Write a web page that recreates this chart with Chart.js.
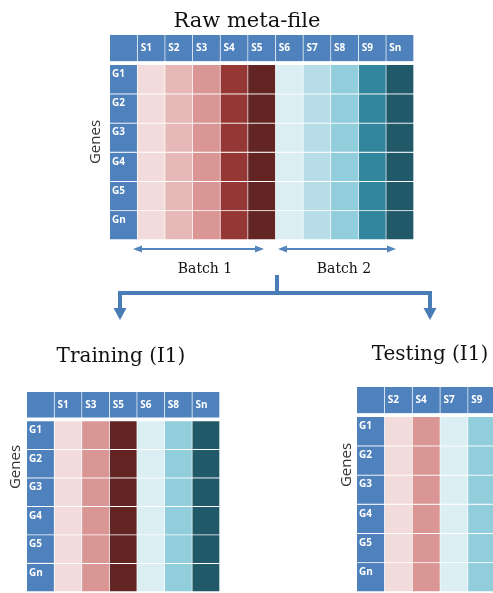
<!DOCTYPE html>
<html>
<head>
<meta charset="utf-8">
<script src="https://cdn.jsdelivr.net/npm/chart.js@4.4.1/dist/chart.umd.min.js"></script>
<style>
  html, body { margin: 0; padding: 0; background: #fff; }
  body { width: 493px; height: 593px; position: relative; overflow: hidden; }
  canvas { position: absolute; }
</style>
</head>
<body>
<canvas id="rawChart" width="493" height="330" style="left:0;top:0;width:493px;height:330px"></canvas>
<canvas id="trainChart" width="250" height="263" style="left:0;top:330px;width:250px;height:263px"></canvas>
<canvas id="testChart" width="250" height="263" style="left:250px;top:330px;width:250px;height:263px"></canvas>
<script>
// rows of every matrix
const genes = ['G1', 'G2', 'G3', 'G4', 'G5', 'Gn'];

// raw meta-file: batch (1 = red, 2 = blue) and shade level per sample
const rawSamples = ['S1', 'S2', 'S3', 'S4', 'S5', 'S6', 'S7', 'S8', 'S9', 'Sn'];
const rawBatch = [1, 1, 1, 1, 1, 2, 2, 2, 2, 2];
const rawShade = [1, 2, 3, 4, 5, 1, 2, 3, 4, 5];

// training split
const trainSamples = ['S1', 'S3', 'S5', 'S6', 'S8', 'Sn'];
const trainBatch = [1, 1, 1, 2, 2, 2];
const trainShade = [1, 3, 5, 1, 3, 5];

// testing split
const testSamples = ['S2', 'S4', 'S7', 'S9'];
const testBatch = [1, 1, 2, 2];
const testShade = [1, 3, 1, 3];

const redShades = ['#f2dcdb', '#e6b9b8', '#d99694', '#953735', '#632523'];
const blueShades = ['#daeef3', '#b7dee8', '#92cddc', '#31859c', '#215968'];
const headerBlue = '#4f81bd';
const HEADER_GAP = 0.13;  // white gap between header row and gene rows (in row units)
const HEADER_H = 0.9;

function cellColor(batch, shade) {
    return (batch === 1 ? redShades : blueShades)[shade - 1];
}

function buildDatasets(samples, batch, shade) {
    const n = genes.length;
    const cols = [''].concat(samples);
    const sets = genes.map((g, gi) => {
        const lo = n - 1 - gi;
        return {
            label: g,
            rowLabel: g,
            data: cols.map(() => [lo, lo + 1]),
            backgroundColor: [headerBlue].concat(samples.map((s, i) => cellColor(batch[i], shade[i]))),
            borderColor: '#ffffff',
            borderWidth: { top: 0, left: 0, right: 1, bottom: 1 },
            borderSkipped: false,
            grouped: false,
            categoryPercentage: 1,
            barPercentage: 1
        };
    });
    sets.push({
        label: 'header',
        isHeader: true,
        data: cols.map(() => [n + HEADER_GAP, n + HEADER_GAP + HEADER_H]),
        backgroundColor: headerBlue,
        borderColor: 'rgba(255,255,255,0.5)',
        borderWidth: { top: 0, left: 0, right: 1, bottom: 0 },
        borderSkipped: false,
        grouped: false,
        categoryPercentage: 1,
        barPercentage: 1
    });
    return sets;
}

// cell labels, title and the rotated "Genes" label
const gridText = {
    id: 'gridText',
    afterDatasetsDraw(chart, args, opts) {
        const ctx = chart.ctx;
        const labels = chart.data.labels;
        ctx.save();
        ctx.fillStyle = '#ffffff';
        ctx.font = 'bold 10px "Open Sans"';
        ctx.textAlign = 'left';
        ctx.textBaseline = 'alphabetic';
        chart.data.datasets.forEach((ds, di) => {
            chart.getDatasetMeta(di).data.forEach((el, i) => {
                const p = el.getProps(['x', 'y', 'base', 'width'], true);
                const left = p.x - p.width / 2;
                const top = Math.min(p.y, p.base);
                const bottom = Math.max(p.y, p.base);
                if (ds.isHeader && i > 0) {
                    ctx.fillText(labels[i], left + 3, (top + bottom) / 2 + 3);
                } else if (!ds.isHeader && i === 0) {
                    ctx.fillText(ds.rowLabel, left + 2, top + 12);
                }
            });
        });

        ctx.fillStyle = '#111111';
        ctx.font = opts.titleFont;
        ctx.textAlign = 'center';
        ctx.fillText(opts.title, opts.titleX, opts.titleY);

        ctx.translate(opts.genesX, opts.genesY);
        ctx.rotate(-Math.PI / 2);
        ctx.font = '15px "Open Sans"';
        ctx.fillStyle = '#333333';
        ctx.textBaseline = 'middle';
        ctx.fillText('Genes', 0, 0);
        ctx.restore();
    }
};

// batch arrows and the split arrows under the raw matrix
const flowArrows = {
    id: 'flowArrows',
    afterDraw(chart) {
        const ctx = chart.ctx;
        const blue = '#5585bd';
        ctx.save();

        function twoWay(x1, x2, y) {
            ctx.strokeStyle = blue;
            ctx.fillStyle = blue;
            ctx.lineWidth = 2;
            ctx.beginPath();
            ctx.moveTo(x1 + 6, y);
            ctx.lineTo(x2 - 6, y);
            ctx.stroke();
            ctx.beginPath();
            ctx.moveTo(x1, y); ctx.lineTo(x1 + 9, y - 3.5); ctx.lineTo(x1 + 9, y + 3.5); ctx.closePath();
            ctx.moveTo(x2, y); ctx.lineTo(x2 - 9, y - 3.5); ctx.lineTo(x2 - 9, y + 3.5); ctx.closePath();
            ctx.fill();
        }
        twoWay(133, 264, 249);
        twoWay(278, 396, 249);

        ctx.fillStyle = '#111111';
        ctx.font = '14px "DejaVu Serif"';
        ctx.textAlign = 'center';
        ctx.textBaseline = 'alphabetic';
        ctx.fillText('Batch 1', 205, 273);
        ctx.fillText('Batch 2', 344, 273);

        ctx.strokeStyle = '#4a7cb8';
        ctx.fillStyle = '#4a7cb8';
        ctx.lineWidth = 4;
        ctx.lineJoin = 'miter';
        ctx.beginPath();
        ctx.moveTo(277, 275); ctx.lineTo(277, 293);
        ctx.moveTo(120, 309); ctx.lineTo(120, 293); ctx.lineTo(430, 293); ctx.lineTo(430, 309);
        ctx.stroke();
        [120, 430].forEach(x => {
            ctx.beginPath();
            ctx.moveTo(x - 6.5, 308); ctx.lineTo(x + 6.5, 308); ctx.lineTo(x, 320); ctx.closePath();
            ctx.fill();
        });
        ctx.restore();
    }
};

function makeMatrix(id, samples, batch, shade, padding, text, extra) {
    return new Chart(document.getElementById(id), {
        type: 'bar',
        data: {
            labels: [''].concat(samples),
            datasets: buildDatasets(samples, batch, shade)
        },
        options: {
            responsive: false,
            animation: false,
            events: [],
            layout: { padding: padding },
            scales: {
                x: { display: false },
                y: { display: false, min: 0, max: genes.length + HEADER_GAP + HEADER_H }
            },
            plugins: {
                legend: { display: false },
                tooltip: { enabled: false },
                gridText: text
            }
        },
        plugins: [gridText].concat(extra || [])
    });
}

makeMatrix('rawChart', rawSamples, rawBatch, rawShade,
    { left: 110, right: 79, top: 35, bottom: 90 },
    { title: 'Raw meta-file', titleFont: '21px "DejaVu Serif"', titleX: 247, titleY: 27, genesX: 96, genesY: 142 },
    [flowArrows]);

makeMatrix('trainChart', trainSamples, trainBatch, trainShade,
    { left: 27, right: 30, top: 62, bottom: 1 },
    { title: 'Training (I1)', titleFont: '20px "DejaVu Serif"', titleX: 121, titleY: 32, genesX: 16, genesY: 137 });

makeMatrix('testChart', testSamples, testBatch, testShade,
    { left: 107, right: 4, top: 57, bottom: 1 },
    { title: 'Testing (I1)', titleFont: '20px "DejaVu Serif"', titleX: 180, titleY: 30, genesX: 97, genesY: 135 });
</script>
</body>
</html>
